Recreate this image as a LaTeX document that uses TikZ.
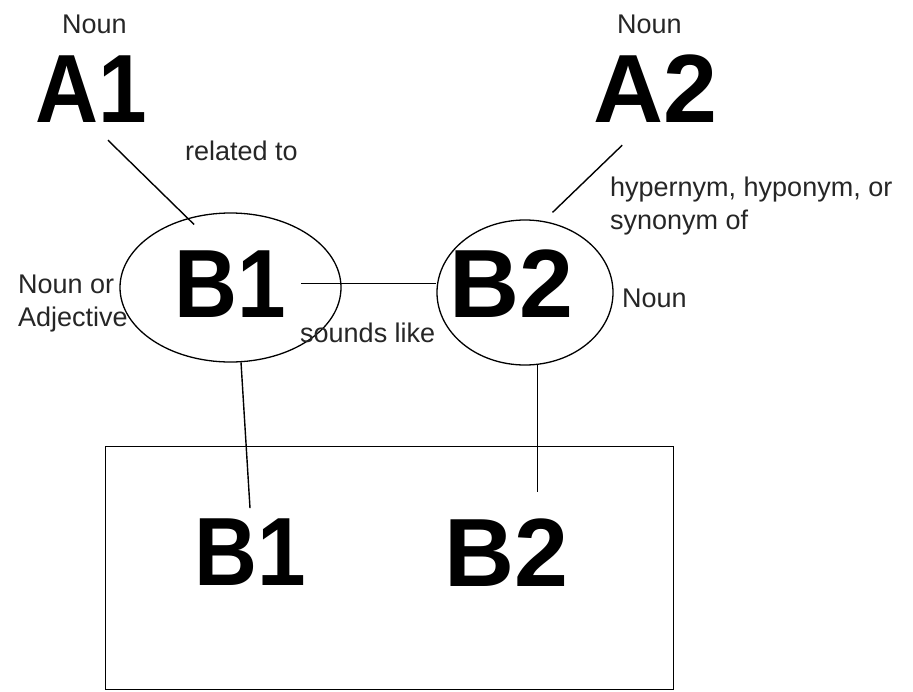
\documentclass[tikz,border=0pt]{standalone}
\usepackage{fontspec}
\setmainfont{Liberation Sans}
\newfontfamily\bigfont[FakeStretch=0.9]{Liberation Sans}
\usetikzlibrary{shapes.geometric,calc}
\tikzset{
  big/.style={inner sep=0pt, anchor=base west, font=\bigfont\fontsize{97}{97}\selectfont\bfseries},
  bigw/.style={inner sep=0pt, anchor=base west, font=\fontsize{97}{97}\selectfont\bfseries},
  small/.style={inner sep=0pt, anchor=base west, text=black!85, font=\fontsize{27}{33}\selectfont},
  smallml/.style={inner sep=0pt, anchor=north west, align=left, text=black!85, font=\fontsize{27}{33}\selectfont},
  oval/.style={draw, ellipse, inner sep=0pt, line width=1.3pt},
  link/.style={line width=1.4pt},
}
\begin{document}
\begin{tikzpicture}[x=1pt,y=-1pt]
\useasboundingbox[fill=white] (0,0) rectangle (913,691);
% top words
\node[small] (n1) at (62,33) {Noun};
\node[small] (n2) at (617,33) {Noun};
\node[big] (a1) at (35,122) {A1};
\node[bigw] (a2) at (593,122) {A2};
\node[small] (rel) at (185,160) {related to};
\node[smallml] (hyp) at (610,177) {hypernym, hyponym, or\\synonym of};
% ellipses
\node[oval, minimum width=221, minimum height=149] (e1) at (230.5,287.5) {};
\node[oval, minimum width=176, minimum height=145] (e2) at (525,292.5) {};
\node[big] (b1) at (174,317) {B1};
\node[bigw] (b2) at (449,317) {B2};
\node[smallml] (noa) at (18,275) {Noun or\\Adjective};
\node[small] (n3) at (622,307) {Noun};
\node[small] (snd) at (300,342) {sounds like};
% box
\node[draw, line width=1.4pt, minimum width=568, minimum height=243, anchor=north west, inner sep=0pt] (box) at (105,446) {};
\node[big] (b1b) at (194,585) {B1};
\node[bigw] (b2b) at (444,586) {B2};
% connectors
\draw[link] ([shift={(17,18)}]a1.south) -- ([shift={(4,7)}]e1.120);
\draw[link] ([shift={(-33,23)}]a2.south) -- ([shift={(2,-10)}]e2.70);
\draw[link] ([xshift=15pt]b1.east) -- (b1.east -| e2.west);
\draw[link] (e1.-82) -- ([shift={(0,-10)}]b1b.north);
\draw[link] (e2.-80) -- ([shift={(0,-26)}]e2.-80 |- b2b.north);
\end{tikzpicture}
\end{document}
